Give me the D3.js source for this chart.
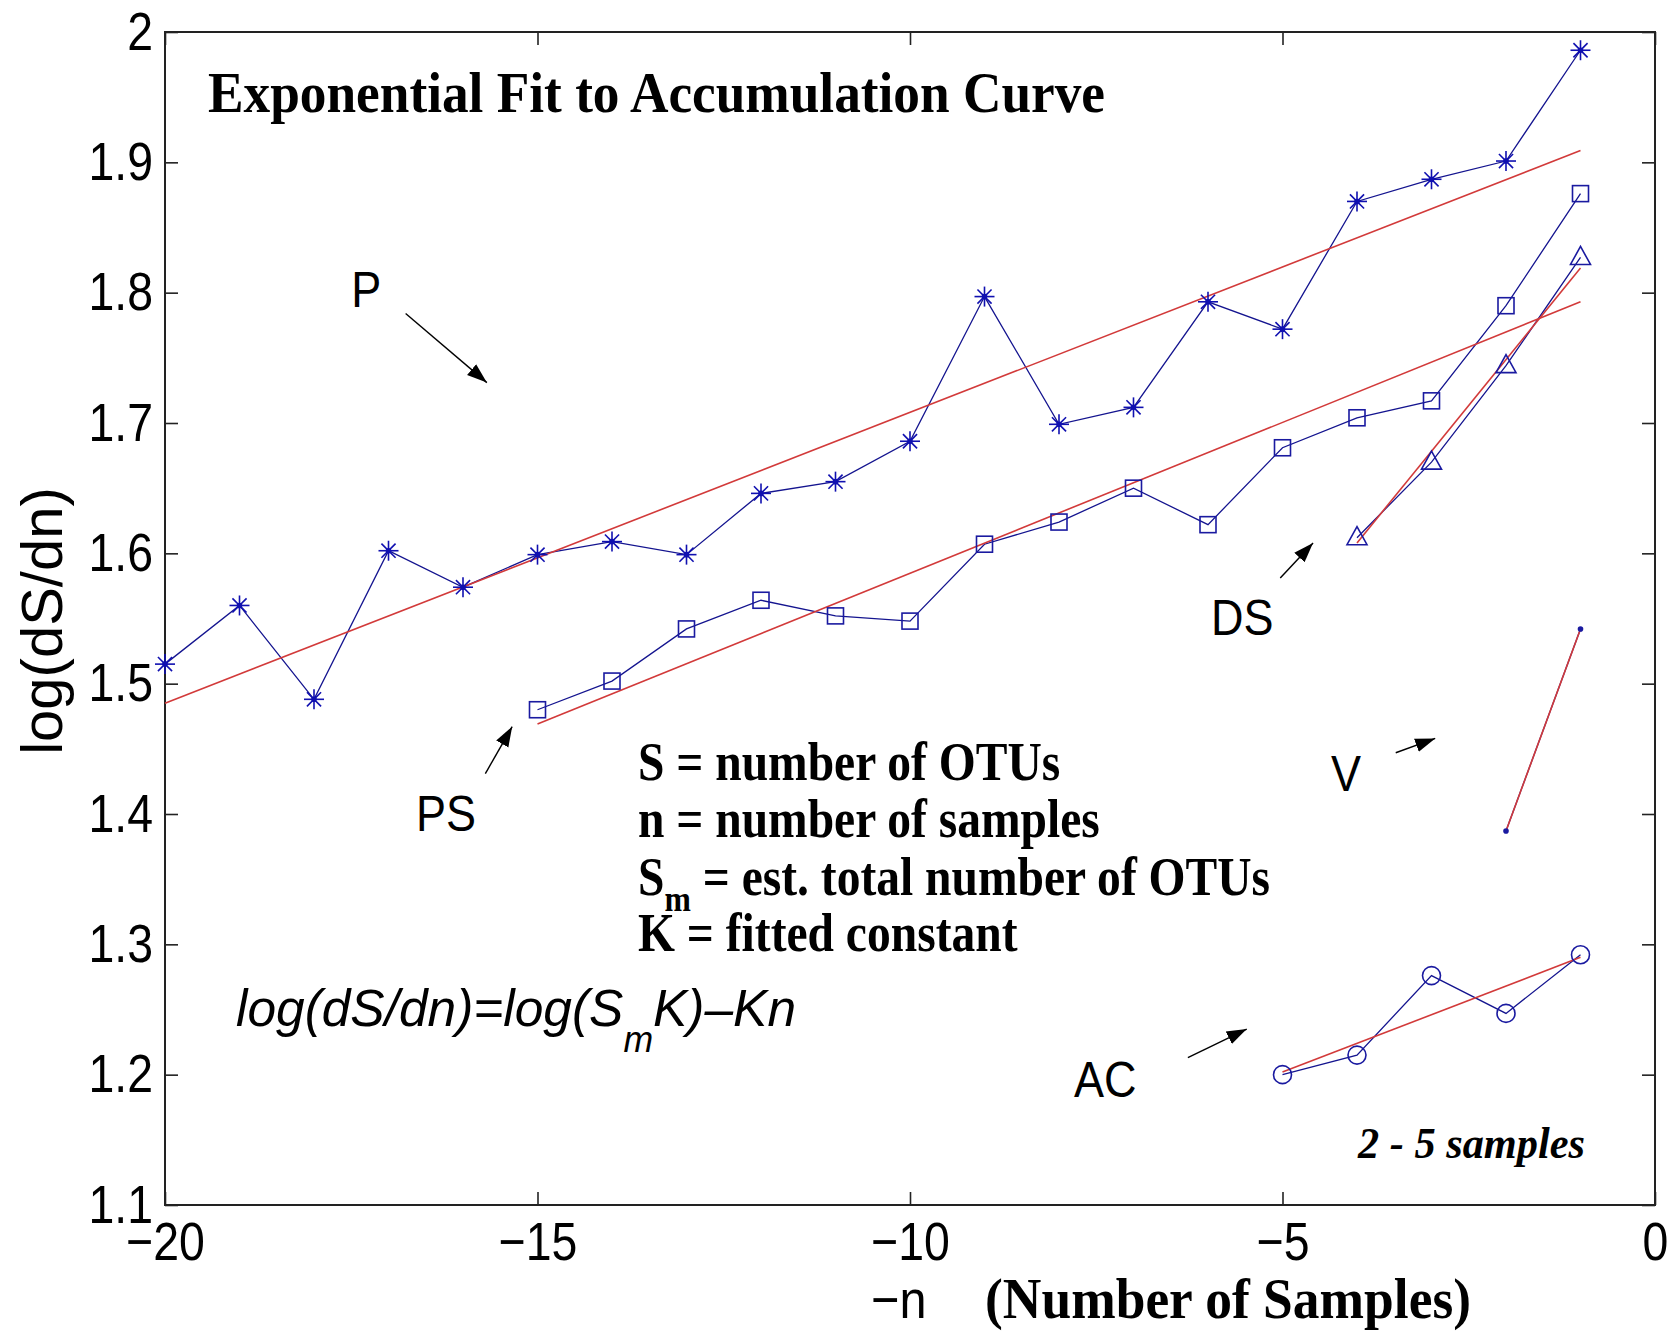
<!DOCTYPE html>
<html>
<head>
<meta charset="utf-8">
<script src="https://cdn.jsdelivr.net/npm/d3@7"></script>
<style>
  body { margin: 0; background: #fff; }
  svg { display: block; }
</style>
</head>
<body>
<svg id="chart" width="1670" height="1335"></svg>
<script>
// axis ticks
const xTicks = [-20, -15, -10, -5, 0];
const yTicks = [1.1, 1.2, 1.3, 1.4, 1.5, 1.6, 1.7, 1.8, 1.9, 2];

// P (asterisks)
const nP = [-20, -19, -18, -17, -16, -15, -14, -13, -12, -11, -10, -9, -8, -7, -6, -5, -4, -3, -2, -1];
const logP = [1.515, 1.560, 1.488, 1.602, 1.574, 1.599, 1.609, 1.599, 1.646, 1.655, 1.686, 1.797, 1.699, 1.712, 1.793, 1.772, 1.870, 1.887, 1.901, 1.986];
// PS (squares)
const nPS = [-15, -14, -13, -12, -11, -10, -9, -8, -7, -6, -5, -4, -3, -2, -1];
const logPS = [1.480, 1.502, 1.542, 1.564, 1.552, 1.548, 1.607, 1.624, 1.650, 1.622, 1.681, 1.704, 1.717, 1.790, 1.876];
// DS (triangles)
const nDS = [-4, -3, -2, -1];
const logDS = [1.612, 1.670, 1.744, 1.827];
// V (dots)
const nV = [-2, -1];
const logV = [1.387, 1.542];
// AC (circles)
const nAC = [-5, -4, -3, -2, -1];
const logAC = [1.200, 1.215, 1.276, 1.247, 1.292];

// fitted lines (end points)
const fitN = { P: [-20, -1], PS: [-15, -1], DS: [-4, -1], V: [-2, -1], AC: [-5, -1] };
const fitLog = { P: [1.485, 1.909], PS: [1.469, 1.793], DS: [1.608, 1.819], V: [1.387, 1.542], AC: [1.202, 1.290] };

// series labels and arrows, in data units
const labelNames = ["P", "PS", "DS", "V", "AC"];
const labelN = [-17.50, -16.63, -5.96, -4.35, -7.80];
const labelLog = [1.789, 1.387, 1.537, 1.418, 1.183];
const arrowFrom = [[-16.77, 1.784], [-15.70, 1.431], [-5.03, 1.581], [-3.48, 1.447], [-6.27, 1.213]];
const arrowTo = [[-15.68, 1.731], [-15.34, 1.467], [-4.59, 1.608], [-2.95, 1.458], [-5.48, 1.235]];

const svg = d3.select("#chart");
const margin = {top: 32, right: 15, bottom: 130, left: 165};
const width = 1670 - margin.left - margin.right;
const height = 1335 - margin.top - margin.bottom;

const sans = "'Liberation Sans', Arial, Helvetica, sans-serif";
const serif = "'Liberation Serif', 'Times New Roman', Times, serif";
const blue = "#14148f";
const red = "#d23a3a";

const x = d3.scaleLinear().domain([-20, 0]).range([0, width]);
const y = d3.scaleLinear().domain([1.1, 2]).range([height, 0]);

const g = svg.append("g").attr("transform", `translate(${margin.left},${margin.top})`);

// axes, ticks pointing inward on all four sides
const tickLen = 13;
const fmtY = d => String(+d.toFixed(1));
const fmtX = d => d < 0 ? "\u2212" + Math.abs(d) : String(d);

g.append("g").attr("class", "axis")
  .attr("transform", `translate(0,${height})`)
  .call(d3.axisBottom(x).tickValues(xTicks).tickSize(-tickLen).tickSizeOuter(0).tickPadding(17).tickFormat(fmtX));
g.append("g").attr("class", "axis")
  .call(d3.axisTop(x).tickValues(xTicks).tickSize(-tickLen).tickSizeOuter(0).tickFormat(""));
g.append("g").attr("class", "axis")
  .call(d3.axisLeft(y).tickValues(yTicks).tickSize(-tickLen).tickSizeOuter(0).tickPadding(14).tickFormat(fmtY));
g.append("g").attr("class", "axis")
  .attr("transform", `translate(${width},0)`)
  .call(d3.axisRight(y).tickValues(yTicks).tickSize(-tickLen).tickSizeOuter(0).tickFormat(""));

g.selectAll(".axis path").remove();
g.selectAll(".axis line").attr("stroke", "#222").attr("stroke-width", 1.6);
g.selectAll(".axis text")
  .attr("fill", "#000")
  .attr("transform", "scale(0.86,1)")
  .style("font-family", sans)
  .style("font-size", "54px");

g.append("rect")
  .attr("width", width).attr("height", height)
  .attr("fill", "none").attr("stroke", "#222").attr("stroke-width", 2);

// data lines
const line = d3.line().x(d => x(d[0])).y(d => y(d[1]));
const zip = (a, b) => a.map((v, i) => [v, b[i]]);

const series = [
  {key: "P", pts: zip(nP, logP), marker: "star"},
  {key: "PS", pts: zip(nPS, logPS), marker: "square"},
  {key: "DS", pts: zip(nDS, logDS), marker: "triangle"},
  {key: "V", pts: zip(nV, logV), marker: "dot"},
  {key: "AC", pts: zip(nAC, logAC), marker: "circle"}
];

series.forEach(s => {
  g.append("path")
    .attr("d", line(s.pts))
    .attr("fill", "none")
    .attr("stroke", blue)
    .attr("stroke-width", 1.3);
});

// fitted red lines
series.forEach(s => {
  g.append("path")
    .attr("d", line(zip(fitN[s.key], fitLog[s.key])))
    .attr("fill", "none")
    .attr("stroke", red)
    .attr("stroke-width", 1.6);
});

// markers
series.forEach(s => {
  const m = g.append("g").selectAll("g")
    .data(s.pts)
    .enter().append("g")
    .attr("transform", d => `translate(${x(d[0])},${y(d[1])})`);

  if (s.marker === "star") {
    const r = 10;
    [0, 45, 90, 135].forEach(a => {
      const dx = r * Math.cos(a * Math.PI / 180), dy = r * Math.sin(a * Math.PI / 180);
      m.append("line")
        .attr("x1", -dx).attr("y1", -dy).attr("x2", dx).attr("y2", dy)
        .attr("stroke", "#1010b0").attr("stroke-width", 1.6);
    });
    m.append("circle").attr("r", 2.8).attr("fill", "#1010b0");
  } else if (s.marker === "square") {
    m.append("rect")
      .attr("x", -8).attr("y", -8).attr("width", 16).attr("height", 16)
      .attr("fill", "none").attr("stroke", "#1a1aa0").attr("stroke-width", 1.6);
  } else if (s.marker === "triangle") {
    m.append("path")
      .attr("d", "M0,-11L10,7L-10,7Z")
      .attr("fill", "none").attr("stroke", "#1a1aa0").attr("stroke-width", 1.6);
  } else if (s.marker === "circle") {
    m.append("circle").attr("r", 9)
      .attr("fill", "none").attr("stroke", "#1a1aa0").attr("stroke-width", 1.6);
  } else {
    m.append("circle").attr("r", 2.8).attr("fill", "#1a1aa0");
  }
});

// arrow heads
svg.append("defs").append("marker")
  .attr("id", "head")
  .attr("viewBox", "0 0 10 10")
  .attr("refX", 10).attr("refY", 5)
  .attr("markerWidth", 20).attr("markerHeight", 20)
  .attr("markerUnits", "userSpaceOnUse")
  .attr("orient", "auto")
  .append("path")
  .attr("d", "M0,1.5L10,5L0,8.5Z")
  .attr("fill", "#000");

arrowFrom.forEach((f, i) => {
  g.append("line")
    .attr("x1", x(f[0])).attr("y1", y(f[1]))
    .attr("x2", x(arrowTo[i][0])).attr("y2", y(arrowTo[i][1]))
    .attr("stroke", "#000").attr("stroke-width", 1.4)
    .attr("marker-end", "url(#head)");
});

labelNames.forEach((t, i) => {
  g.append("text")
    .attr("transform", `translate(${x(labelN[i])},${y(labelLog[i])}) scale(0.9,1)`)
    .style("font-family", sans).style("font-size", "50px")
    .text(t);
});

// title inside the plot
svg.append("text")
  .attr("x", 208).attr("y", 112)
  .attr("textLength", 897).attr("lengthAdjust", "spacingAndGlyphs")
  .style("font-family", serif).style("font-weight", "bold").style("font-size", "58px")
  .text("Exponential Fit to Accumulation Curve");

// definitions block
const defLines = [
  ["S = number of OTUs"],
  ["n = number of samples"],
  ["S", "m", " = est. total number of OTUs"],
  ["K = fitted constant"]
];
const defBase = [780, 837, 895, 951];
defLines.forEach((parts, i) => {
  const t = svg.append("text")
    .attr("transform", `translate(638,${defBase[i]}) scale(0.88,1)`)
    .style("font-family", serif).style("font-weight", "bold").style("font-size", "54px");
  if (parts.length === 1) {
    t.text(parts[0]);
  } else {
    t.append("tspan").text(parts[0]);
    t.append("tspan").attr("dy", 16).style("font-size", "36px").text(parts[1]);
    t.append("tspan").attr("dy", -16).text(parts[2]);
  }
});

// formula
const formula = svg.append("text")
  .attr("x", 236).attr("y", 1026)
  .attr("textLength", 560).attr("lengthAdjust", "spacingAndGlyphs")
  .style("font-family", sans).style("font-style", "italic").style("font-size", "52px");
formula.append("tspan").text("log(dS/dn)=log(S");
formula.append("tspan").attr("dy", 26).style("font-size", "36px").text("m");
formula.append("tspan").attr("dy", -26).text("K)\u2013Kn");

// note
svg.append("text")
  .attr("x", 1358).attr("y", 1158)
  .attr("textLength", 227).attr("lengthAdjust", "spacingAndGlyphs")
  .style("font-family", serif).style("font-weight", "bold").style("font-style", "italic").style("font-size", "44px")
  .text("2 - 5 samples");

// x axis title
svg.append("text")
  .attr("transform", "translate(871,1318) scale(0.9,1)")
  .style("font-family", sans).style("font-size", "54px")
  .text("\u2212n");
svg.append("text")
  .attr("x", 985).attr("y", 1318)
  .attr("textLength", 486).attr("lengthAdjust", "spacingAndGlyphs")
  .style("font-family", serif).style("font-weight", "bold").style("font-size", "56px")
  .text("(Number of Samples)");

// y axis title
svg.append("text")
  .attr("transform", "translate(62,621) rotate(-90)")
  .attr("text-anchor", "middle")
  .style("font-family", sans).style("font-size", "58px")
  .text("log(dS/dn)");
</script>
</body>
</html>
